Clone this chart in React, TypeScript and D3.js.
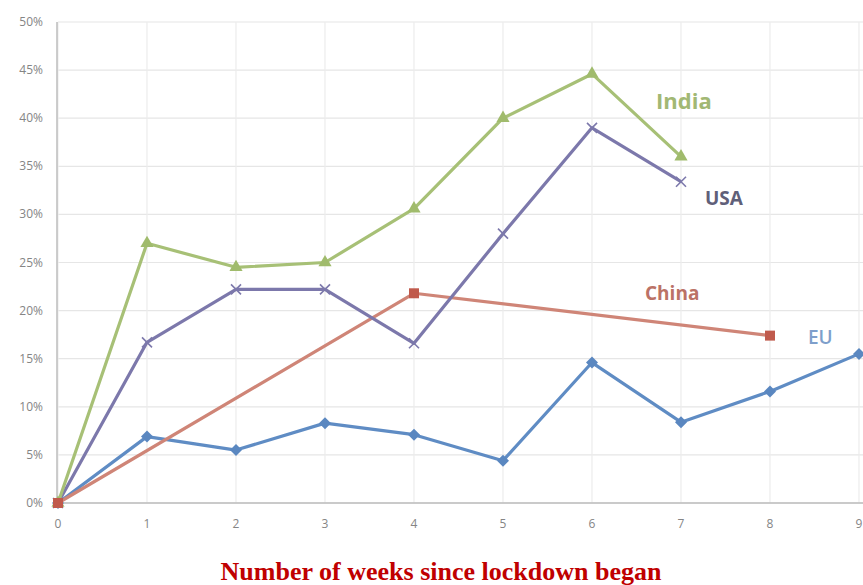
import React from "react";
import * as d3 from "d3";

const weeks = [0, 1, 2, 3, 4, 5, 6, 7, 8, 9];
const yTicks = [0, 5, 10, 15, 20, 25, 30, 35, 40, 45, 50];

const indiaWeeks = [0, 1, 2, 3, 4, 5, 6, 7];
const indiaValues = [0, 27.0, 24.5, 25.0, 30.6, 40.0, 44.6, 36.0];

const usaWeeks = [0, 1, 2, 3, 4, 5, 6, 7];
const usaValues = [0, 16.7, 22.2, 22.2, 16.6, 28.0, 39.0, 33.4];

const chinaWeeks = [0, 4, 8];
const chinaValues = [0, 21.8, 17.4];

const euWeeks = [0, 1, 2, 3, 4, 5, 6, 7, 8, 9];
const euValues = [0, 6.9, 5.5, 8.3, 7.1, 4.4, 14.6, 8.4, 11.6, 15.5];

const W = 863;
const H = 585;
const left = 58;
const right = 859;
const top = 22;
const bottom = 503;

const x = d3.scaleLinear().domain([0, 9]).range([left, right]);
const y = d3.scaleLinear().domain([0, 50]).range([bottom, top]);

type Pt = [number, number];
const zip = (xs: number[], vs: number[]): Pt[] => xs.map((w, i) => [w, vs[i]]);

const line = d3
  .line<Pt>()
  .x((d) => x(d[0]))
  .y((d) => y(d[1]));

const tri = d3.symbol().type(d3.symbolTriangle).size(75)() as string;
const sq = d3.symbol().type(d3.symbolSquare).size(100)() as string;
const dia = "M0,-6L6,0L0,6L-6,0Z";

export default function App() {
  const india = zip(indiaWeeks, indiaValues);
  const usa = zip(usaWeeks, usaValues);
  const china = zip(chinaWeeks, chinaValues);
  const eu = zip(euWeeks, euValues);

  return (
    <svg
      width={W}
      height={H}
      style={{ position: "absolute", left: 0, top: 0, background: "#fff" }}
      fontFamily="'Open Sans', 'DejaVu Sans', sans-serif"
    >
      {/* gridlines */}
      {yTicks.map((t) => (
        <line key={"gy" + t} x1={left} x2={right + 4} y1={y(t)} y2={y(t)} stroke="#e6e6e6" strokeWidth={1.2} />
      ))}
      {weeks.map((w) => (
        <line key={"gx" + w} x1={x(w)} x2={x(w)} y1={top} y2={bottom} stroke="#ececec" strokeWidth={1.2} />
      ))}
      {/* axes */}
      <line x1={left - 1} x2={left - 1} y1={top} y2={bottom} stroke="#bdbdbd" strokeWidth={1.5} />
      <line x1={left} x2={W} y1={bottom} y2={bottom} stroke="#bdbdbd" strokeWidth={1.5} />

      {yTicks.map((t) => (
        <text key={"ty" + t} x={43} y={y(t) + 4} textAnchor="end" fontSize={12} fill="#858585">
          {t + "%"}
        </text>
      ))}
      {weeks.map((w) => (
        <text key={"tx" + w} x={x(w)} y={528} textAnchor="middle" fontSize={12} fill="#858585">
          {w}
        </text>
      ))}

      {/* EU */}
      <path d={line(eu) as string} fill="none" stroke="#5f8cc4" strokeWidth={3.2} strokeLinejoin="round" />
      {eu.map((d, i) => (
        <path key={"eu" + i} d={dia} transform={`translate(${x(d[0])},${y(d[1])})`} fill="#5a87c0" />
      ))}

      {/* China */}
      <path d={line(china) as string} fill="none" stroke="#cf8577" strokeWidth={3.2} strokeLinejoin="round" />

      {/* USA */}
      <path d={line(usa) as string} fill="none" stroke="#7c78ab" strokeWidth={3.2} strokeLinejoin="round" />
      {usa.map((d, i) => (
        <g key={"us" + i} transform={`translate(${x(d[0])},${y(d[1])})`} stroke="#7c78ab" strokeWidth={1.6}>
          <line x1={-5} y1={-5} x2={5} y2={5} />
          <line x1={-5} y1={5} x2={5} y2={-5} />
        </g>
      ))}

      {/* India */}
      <path d={line(india) as string} fill="none" stroke="#a7c076" strokeWidth={3.2} strokeLinejoin="round" />
      {india.map((d, i) => (
        <path key={"in" + i} d={tri} transform={`translate(${x(d[0])},${y(d[1])})`} fill="#a0bb6c" />
      ))}

      {china.map((d, i) => (
        <path key={"cn" + i} d={sq} transform={`translate(${x(d[0])},${y(d[1])})`} fill="#c05a4c" />
      ))}

      {/* series labels */}
      <text x={656} y={109} fontSize={22} fontWeight="bold" fill="#a2b874">India</text>
      <text x={705} y={205} fontSize={19} fontWeight="bold" fill="#5f6079">USA</text>
      <text x={645} y={300} fontSize={19} fontWeight="bold" fill="#bb7266">China</text>
      <text x={808} y={344} fontSize={19} fontWeight={600} fill="#7e9fcb">EU</text>

      <text
        x={441}
        y={580}
        textAnchor="middle"
        fontFamily="'Liberation Serif', 'Times New Roman', serif"
        fontWeight="bold"
        fontSize={26}
        fill="#c00000"
      >
        Number of weeks since lockdown began
      </text>
    </svg>
  );
}
